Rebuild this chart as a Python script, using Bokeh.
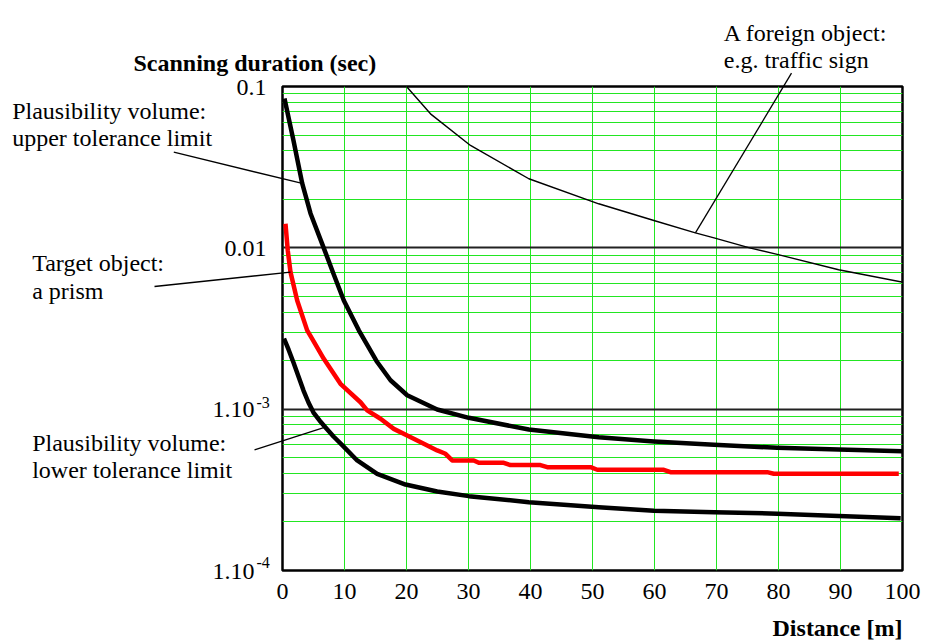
import numpy as np
from bokeh.plotting import figure
from bokeh.models import FixedTicker, Range1d, ColumnDataSource
from bokeh.core.properties import value
from bokeh.embed import file_html
from bokeh.resources import INLINE

# ---------------- data ----------------
x_ticks = [0, 10, 20, 30, 40, 50, 60, 70, 80, 90, 100]
y_ticks = [1e-4, 1e-3, 1e-2, 1e-1]

upper_d = [0.32, 1.77, 3.18, 4.52, 6.66, 8.27, 9.89, 12.31, 15.27, 17.42, 20.11, 24.95,
           30.05, 39.73, 51.0, 59.9, 69.6, 79.8, 89.7, 100.0]
upper_t = [0.0843, 0.0463, 0.02506, 0.01633, 0.00996, 0.00684, 0.00472, 0.00308, 0.00196,
           0.00151, 0.00122, 0.000995, 0.000884, 0.000748, 0.00067, 0.000631, 0.000601,
           0.000576, 0.000562, 0.000549]

prism_d = [0.48, 0.85, 1.29, 2.37, 3.98, 4.79, 6.66, 9.35, 12.58, 13.66, 15.81, 17.95, 20.11,
           22.79, 24.95, 26.29, 27.37, 30.85, 31.66, 35.69, 36.77, 41.6, 42.7, 49.7, 50.76,
           61.5, 62.58, 78.18, 79.24, 99.4]
prism_t = [0.01409, 0.00963, 0.00707, 0.00472, 0.00308, 0.00273, 0.00205, 0.001436, 0.001104,
           0.000982, 0.000872, 0.000755, 0.000687, 0.00061, 0.000555, 0.000529, 0.000481,
           0.000481, 0.000465, 0.000465, 0.00045, 0.00045, 0.000437, 0.000437, 0.000421,
           0.000421, 0.000407, 0.000407, 0.000398, 0.000398]

lower_d = [0.24, 0.97, 1.77, 2.58, 3.39, 4.19, 5.0, 5.97, 6.94, 8.23, 9.63, 12.05, 15.27,
           19.84, 24.95, 30.05, 39.73, 51.0, 59.9, 69.6, 79.8, 89.7, 99.7]
lower_t = [0.002742, 0.002344, 0.001947, 0.001594, 0.001305, 0.0011, 0.000953, 0.000851,
           0.00077, 0.000677, 0.000599, 0.000481, 0.000397, 0.000341, 0.000309, 0.000289,
           0.000265, 0.000247, 0.000235, 0.00023, 0.000225, 0.000218, 0.000211]

sign_d = [20.0, 23.87, 30.32, 39.73, 51.0, 59.9, 66.6, 69.6, 75.5, 79.8, 89.7, 100.5]
sign_t = [0.1, 0.0677, 0.0431, 0.0268, 0.01875, 0.01477, 0.01239, 0.01153, 0.00996, 0.0091,
          0.00731, 0.00607]

# ---------------- layout helpers (canvas pixel -> data, for annotations only) ----------------
def dx(px):
    return (px - 282.0) / 6.2

def dy(py):
    return 10 ** (-1 - (py - 86.0) / 161.33)

def on_curve(xs, ys, x):
    return 10 ** np.interp(x, xs, np.log10(ys))

FONT = "Liberation Serif, Times New Roman, serif"
GREEN = "#22e622"

p = figure(width=924, height=641, y_axis_type="log",
           x_range=Range1d(0, 100), y_range=Range1d(1e-4, 0.1),
           output_backend="svg", toolbar_location=None,
           min_border_left=282, min_border_right=22, min_border_top=86, min_border_bottom=71)

p.outline_line_color = "black"
p.outline_line_width = 2.5
p.background_fill_color = "white"
p.border_fill_color = "white"

# axes
p.xaxis.ticker = FixedTicker(ticks=x_ticks)
minor = [m * d for d in [1e-4, 1e-3, 1e-2] for m in range(2, 10)]
p.yaxis.ticker = FixedTicker(ticks=y_ticks, minor_ticks=minor)
for ax in (p.xaxis[0], p.yaxis[0]):
    ax.axis_line_color = None
    ax.major_tick_in = 0
    ax.major_tick_out = 0
    ax.minor_tick_in = 0
    ax.minor_tick_out = 0
    ax.major_label_text_font = FONT
    ax.major_label_text_font_size = "24px"
    ax.major_label_text_color = "black"
p.xaxis.major_label_standoff = 13
p.yaxis.major_label_standoff = 16
p.yaxis.major_label_overrides = {0.1: "0.1", 0.01: "0.01",
                                 0.001: "1.10\u00a0\u00a0", 0.0001: "1.10\u00a0\u00a0"}

# grids
p.xgrid.ticker = FixedTicker(ticks=x_ticks[1:-1])
p.xgrid.grid_line_color = GREEN
p.xgrid.grid_line_width = 1
p.ygrid.ticker = FixedTicker(ticks=[1e-3, 1e-2], minor_ticks=minor)
p.ygrid.grid_line_color = "#222222"
p.ygrid.grid_line_width = 2
p.ygrid.minor_grid_line_color = GREEN
p.ygrid.minor_grid_line_width = 1

# curves
p.line(sign_d, sign_t, line_color="black", line_width=1.4, line_join="round")
p.line(upper_d, upper_t, line_color="black", line_width=4.5, line_join="round")
p.line(lower_d, lower_t, line_color="black", line_width=4.5, line_join="round")
p.line(prism_d, prism_t, line_color="#ff0000", line_width=4.5, line_join="round")

# leader lines (label side -> point on the curve)
anchors = [
    (173.3, 151.7, upper_d, upper_t, 3.18),
    (154.0, 286.0, prism_d, prism_t, 1.29),
    (254.0, 449.3, lower_d, lower_t, 6.9),
    (791.0, 72.7, sign_d, sign_t, 66.6),
]
lead = ColumnDataSource(dict(
    x0=[dx(a[0]) for a in anchors],
    y0=[dy(a[1]) for a in anchors],
    x1=[a[4] for a in anchors],
    y1=[on_curve(a[2], a[3], a[4]) for a in anchors],
))
p.segment(x0="x0", y0="y0", x1="x1", y1="y1", source=lead,
          line_color="black", line_width=1.3, level="overlay")

# texts (glyphs on the overlay level so they are not clipped to the frame)
texts = [
    ("Scanning duration (sec)", 133, 63, "24px", "bold", "left"),
    ("Plausibility volume:", 11.7, 110, "24px", "normal", "left"),
    ("upper tolerance limit", 11.7, 137.7, "24px", "normal", "left"),
    ("Target object:", 31.7, 262, "24px", "normal", "left"),
    ("a prism", 31.7, 290, "24px", "normal", "left"),
    ("Plausibility volume:", 31.7, 442, "24px", "normal", "left"),
    ("lower tolerance limit", 31.7, 469.5, "24px", "normal", "left"),
    ("A foreign object:", 723.3, 32.3, "24px", "normal", "left"),
    ("e.g. traffic sign", 723.3, 59.3, "24px", "normal", "left"),
    ("Distance [m]", 902, 627, "24px", "bold", "right"),
    ("-3", 256, 402, "16px", "normal", "left"),
    ("-4", 256, 562, "16px", "normal", "left"),
]
for txt, px, py, size, style, align in texts:
    p.text(x=[dx(px)], y=[dy(py)], text=[txt], text_font=value(FONT),
           text_font_size=value(size), text_font_style=style, text_color="black",
           text_align=align, text_baseline="alphabetic", level="overlay")

open("out.html", "w").write(file_html(p, INLINE))
